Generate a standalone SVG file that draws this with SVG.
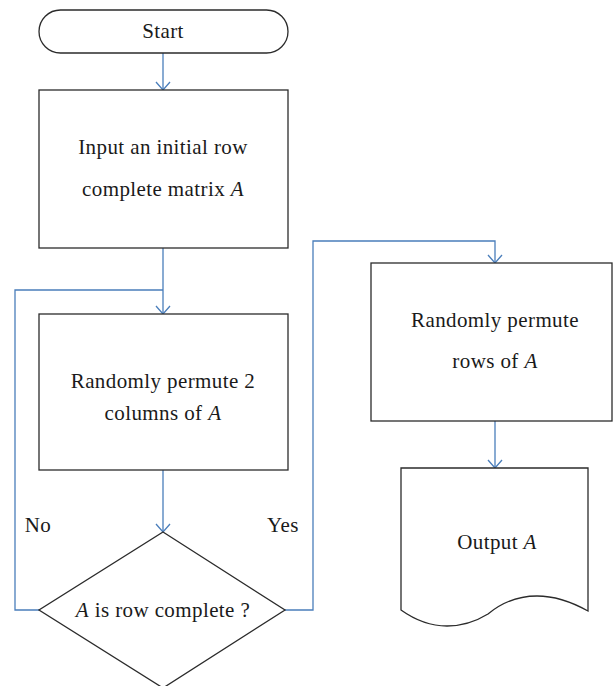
<svg xmlns="http://www.w3.org/2000/svg" width="613" height="686" viewBox="0 0 613 686">
<style>
.n{fill:#fff;stroke:#2b2b2b;stroke-width:1.3}
.c{fill:none;stroke:#4a7ebb;stroke-width:1.3}
text{font-family:"Liberation Serif","DejaVu Serif",serif;font-size:21px;letter-spacing:0.4px;fill:#1a1a1a;text-anchor:middle}
.i{font-style:italic}
</style>
<defs>
<path id="ah" d="M-7,-8 L0,0 L7,-8" fill="none" stroke="#4a7ebb" stroke-width="1.3"/>
</defs>
<rect width="613" height="686" fill="#fff"/>
<g id="connectors">
<path class="c" d="M163,53 V90"/>
<use href="#ah" x="163" y="90"/>
<path class="c" d="M163,248 V314"/>
<use href="#ah" x="163" y="314"/>
<path class="c" d="M39,610 H15 V290 H163"/>
<path class="c" d="M163,470 V532"/>
<use href="#ah" x="163" y="532"/>
<path class="c" d="M285,610 H313 V241 H495 V263"/>
<use href="#ah" x="495" y="263"/>
<path class="c" d="M495,421 V468"/>
<use href="#ah" x="495" y="468"/>
<text x="38" y="532">No</text>
<text x="283" y="532">Yes</text>
</g>
<g id="start">
<rect class="n" x="39" y="10" width="249" height="43" rx="21.5"/>
<text x="163" y="38">Start</text>
</g>
<g id="input">
<rect class="n" x="39" y="90" width="249" height="158"/>
<text x="163" y="154">Input an initial row</text>
<text x="163" y="196">complete matrix <tspan class="i">A</tspan></text>
</g>
<g id="permcols">
<rect class="n" x="39" y="314" width="249" height="156"/>
<text x="163" y="388">Randomly permute 2</text>
<text x="163" y="420">columns of <tspan class="i">A</tspan></text>
</g>
<g id="decision">
<path class="n" d="M163,532 L285,610 L163,688 L39,610 Z"/>
<text x="163" y="617"><tspan class="i">A</tspan> is row complete ?</text>
</g>
<g id="permrows">
<rect class="n" x="371" y="263" width="241" height="158"/>
<text x="495" y="327">Randomly permute</text>
<text x="495" y="368">rows of <tspan class="i">A</tspan></text>
</g>
<g id="output">
<path class="n" d="M401,468 H588 V611 C570,601 555,596 537,596 C515,596 500,604 488,614 C475,622 462,626 447,626 C430,626 415,620 401,610 Z"/>
<text x="497" y="549">Output <tspan class="i">A</tspan></text>
</g>
</svg>
